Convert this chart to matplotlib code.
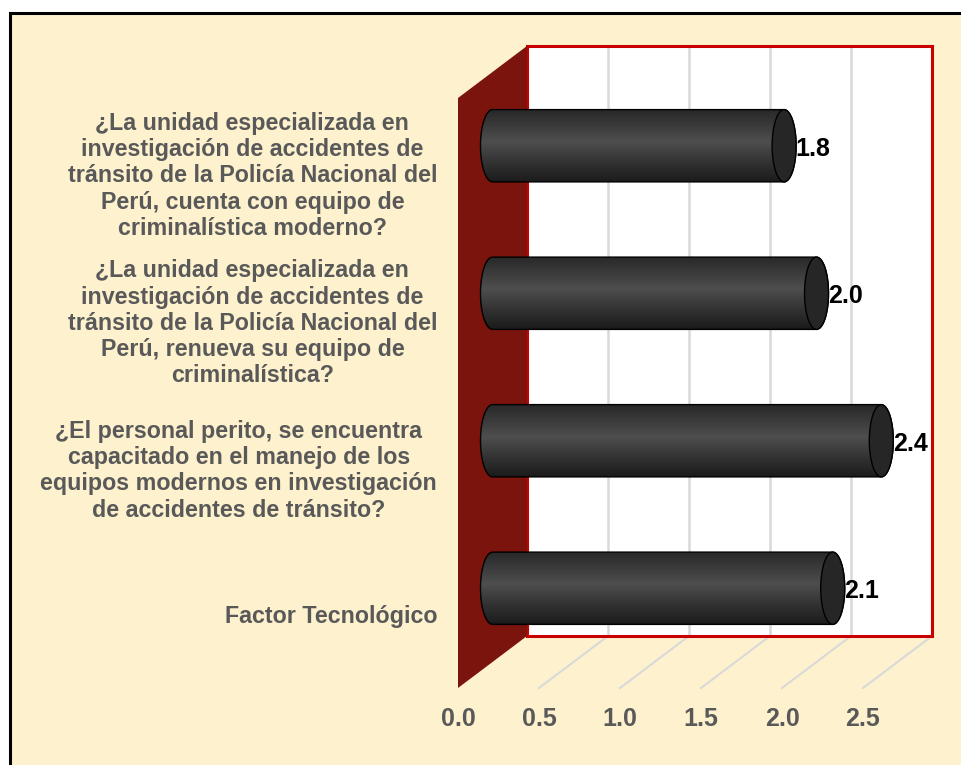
import numpy as np
import matplotlib
matplotlib.use("Agg")
import matplotlib.pyplot as plt
from matplotlib.patches import Rectangle, Polygon, Ellipse, PathPatch
from matplotlib.path import Path
import matplotlib.colors as mcolors

plt.rcParams['font.family'] = ['Liberation Sans', 'DejaVu Sans']

# ---- data ----
categories = [
    "¿La unidad especializada en\ninvestigación de accidentes de\ntránsito de la Policía Nacional del\nPerú, cuenta con equipo de\ncriminalística moderno?",
    "¿La unidad especializada en\ninvestigación de accidentes de\ntránsito de la Policía Nacional del\nPerú, renueva su equipo de\ncriminalística?",
    "¿El personal perito, se encuentra\ncapacitado en el manejo de los\nequipos modernos en investigación\nde accidentes de tránsito?",
    "Factor Tecnológico",
]
values = [1.8, 2.0, 2.4, 2.1]
value_labels = ["1.8", "2.0", "2.4", "2.1"]
xticks = [0.0, 0.5, 1.0, 1.5, 2.0, 2.5]
xtick_labels = ["0.0", "0.5", "1.0", "1.5", "2.0", "2.5"]

# ---- style ----
W, H = 962, 765
BG = "#FEF1CD"
WALL = "#7A140C"
RED = "#C80000"
GRID = "#D9D9D9"
TXT = "#595959"
DEPTH = np.array([69.0, 52.0])   # pixel offset of back plane vs front plane
RX = 12.0                        # cylinder end ellipse half-width (px)
BAR_H = 0.49

fig = plt.figure(figsize=(W / 100, H / 100), dpi=100)
fig.patch.set_facecolor("white")

# background panel with black border
fig.patches.append(Rectangle((9.5 / W, -0.05), 1.1, (H - 13.0) / H + 0.05,
                             transform=fig.transFigure, facecolor=BG,
                             edgecolor="black", lw=2.2, zorder=-10))

# overlay axes in pixel coordinates
ov = fig.add_axes([0, 0, 1, 1])
ov.set_xlim(0, W)
ov.set_ylim(0, H)
ov.axis("off")
ov.patch.set_alpha(0)

# front-plane data axes
ax = fig.add_axes([458 / W, 1 - 688 / H, 405 / W, 590 / H])
ax.set_xlim(0, 2.5)
ax.set_ylim(len(categories) - 0.5, -0.5)
ax.patch.set_alpha(0)
for s in ax.spines.values():
    s.set_visible(False)

def P(x, y, d):
    p = ax.transData.transform((x, y))
    return p + d * DEPTH

ylo, yhi = -0.5, len(categories) - 0.5
xmax = xticks[-1]

# back wall
b0 = P(0, yhi, 1)
b1 = P(xmax, ylo, 1)
ov.add_patch(Rectangle(b0, b1[0] - b0[0], b1[1] - b0[1], facecolor="white",
                       edgecolor="none", zorder=1))
# back-wall gridlines
for t in xticks[1:-1]:
    p0, p1 = P(t, yhi, 1), P(t, ylo, 1)
    ov.plot([p0[0], p1[0]], [p0[1], p1[1]], color=GRID, lw=1.8, zorder=2)
ov.add_patch(Rectangle(b0, b1[0] - b0[0], b1[1] - b0[1], facecolor="none",
                       edgecolor=RED, lw=2.2, zorder=3))

# floor gridlines
for t in xticks[1:]:
    p0, p1 = P(t, yhi, 1), P(t, yhi, 0)
    ov.plot([p0[0], p1[0]], [p0[1], p1[1]], color=GRID, lw=1.5, zorder=2)

# side wall
side = [P(0, ylo, 0), P(0, ylo, 1), P(0, yhi, 1), P(0, yhi, 0)]
ov.add_patch(Polygon(side, closed=True, facecolor=WALL, edgecolor="none", zorder=4))

# gradient for cylinders
cmap = mcolors.LinearSegmentedColormap.from_list(
    "cyl", [(0.0, "#262626"), (0.45, "#4E4E4E"), (0.75, "#303030"), (1.0, "#1A1A1A")])
grad = np.linspace(0, 1, 256).reshape(-1, 1)

def ellipse_arc(cx, cy, rx, ry, a0, a1, n=40):
    a = np.linspace(a0, a1, n)
    return np.column_stack([cx + rx * np.cos(a), cy + ry * np.sin(a)])

for i, v in enumerate(values):
    top = P(0, i - BAR_H / 2, 0.5)
    bot = P(0, i + BAR_H / 2, 0.5)
    end = P(v, i, 0.5)
    x0 = top[0]
    x1 = end[0]
    cy = end[1]
    ry = (top[1] - bot[1]) / 2
    pts = np.vstack([
        [[x0, cy + ry], [x1, cy + ry]],
        ellipse_arc(x1, cy, RX, ry, np.pi / 2, -np.pi / 2),
        [[x0, cy - ry]],
        ellipse_arc(x0, cy, RX, ry, -np.pi / 2, -3 * np.pi / 2),
    ])
    path = Path(pts, closed=False)
    body = PathPatch(path, facecolor="none", edgecolor="black", lw=1.0, zorder=6)
    im = ov.imshow(grad, cmap=cmap, aspect="auto", origin="upper",
                   extent=[x0 - RX - 1, x1 + RX + 1, cy - ry - 1, cy + ry + 1],
                   zorder=5, interpolation="bilinear")
    clip = PathPatch(path, facecolor="none", edgecolor="none", transform=ov.transData)
    im.set_clip_path(clip)
    ov.add_patch(body)
    ov.add_patch(Ellipse((x1, cy), 2 * RX, 2 * ry, facecolor="#262626",
                         edgecolor="black", lw=1.0, zorder=7))
    ov.text(x1 + RX - 0.5, cy - 3, value_labels[i], ha="left", va="center",
            fontsize=18, fontweight="bold", color="black", zorder=8)

ov.set_xlim(0, W)
ov.set_ylim(0, H)

# axis ticks / labels
ax.set_xticks(xticks)
ax.set_xticklabels(xtick_labels)
ax.set_yticks(range(len(categories)))
ax.set_yticklabels(categories, ha="right", multialignment="center", linespacing=1.18)
ax.tick_params(axis="x", length=0, pad=14, labelsize=18, labelcolor=TXT)
ax.tick_params(axis="y", length=0, pad=15, labelsize=16.75, labelcolor=TXT)
for lab in ax.get_xticklabels() + ax.get_yticklabels():
    lab.set_fontweight("bold")

fig.savefig("out.png", dpi=100, facecolor=fig.get_facecolor())
